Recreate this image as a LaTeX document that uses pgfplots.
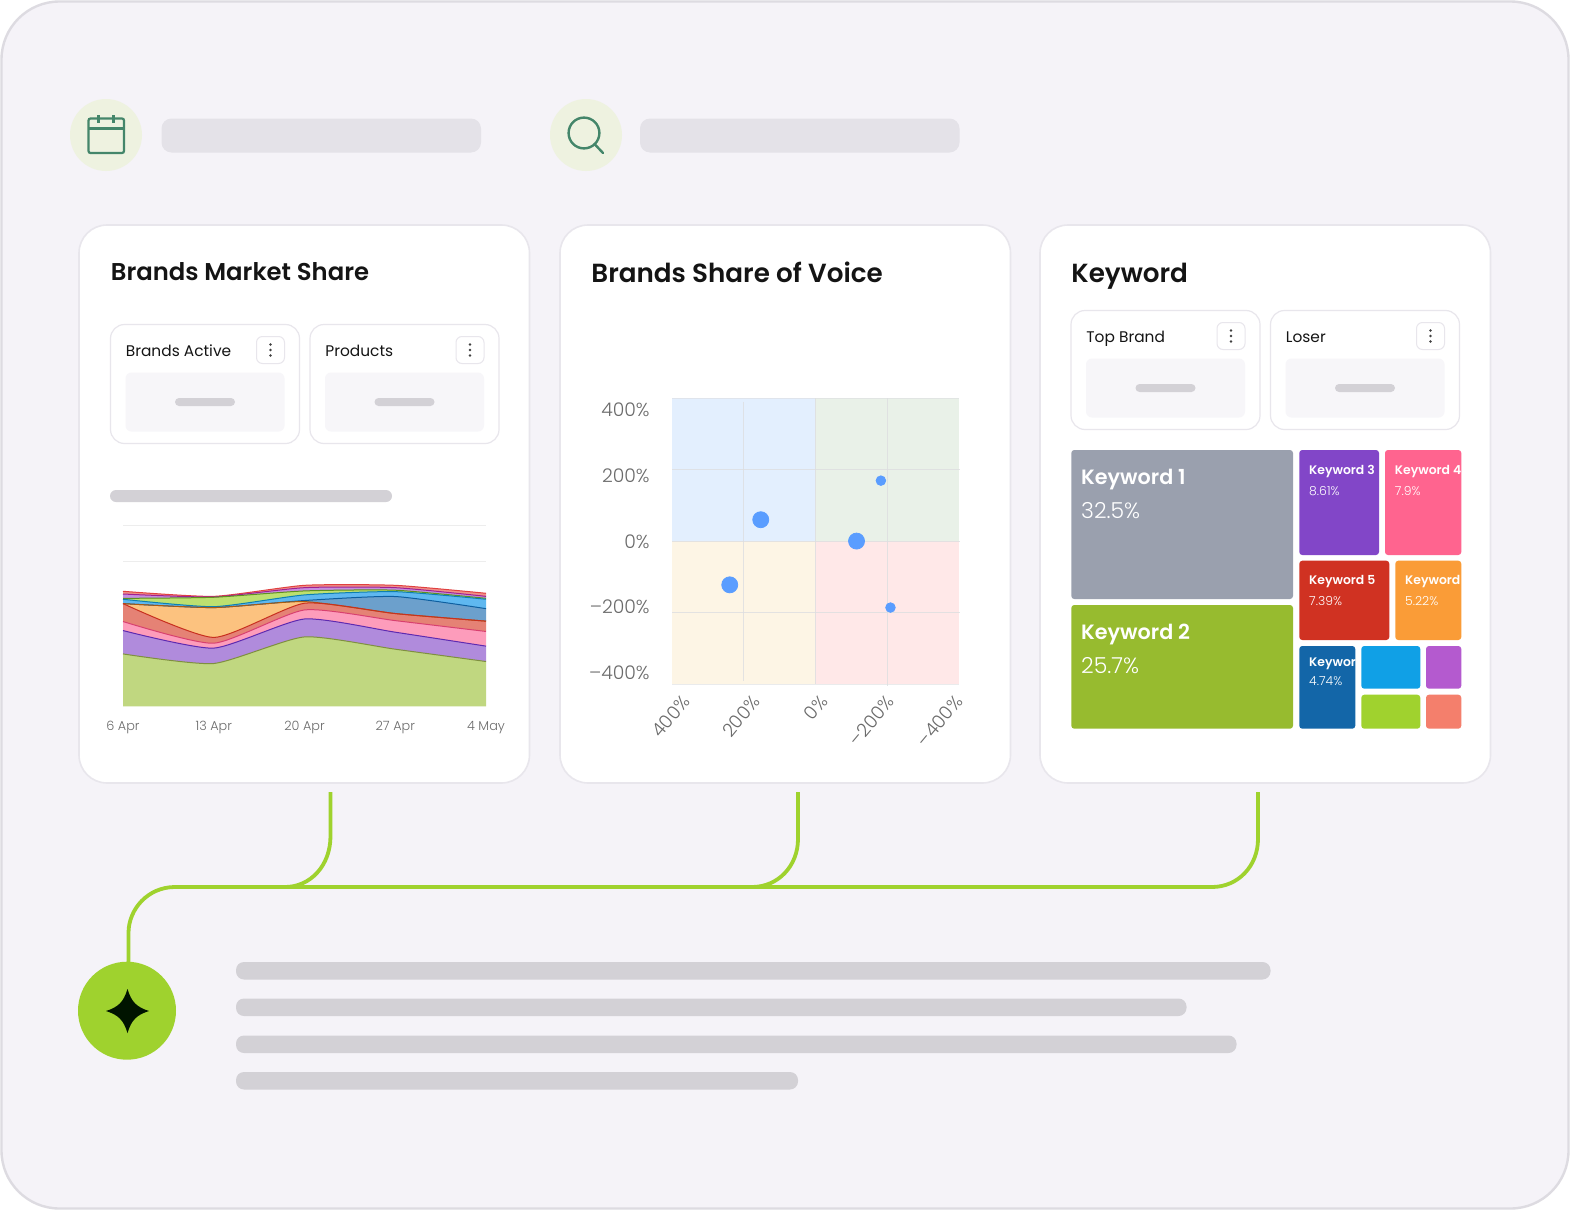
\documentclass[border=0pt]{standalone}
\usepackage{fontspec}
\usepackage{pgfplots}
\usepackage{pgfplotstable}
\pgfplotsset{compat=1.18}
\setmainfont{Poppins}
\newfontfamily\popsb{Poppins}[UprightFont=* SemiBold]
\newfontfamily\popm{Poppins}[UprightFont=* Medium]
\newfontfamily\popl{Poppins}[UprightFont=* Light]
\definecolor{bgc}{HTML}{F5F3F8}
\definecolor{edgec}{HTML}{DDDBE1}
\definecolor{cardedge}{HTML}{E8E6EC}
\definecolor{pillA}{HTML}{E4E2E8}
\definecolor{pillB}{HTML}{D3D1D6}
\definecolor{panel}{HTML}{F7F6F9}
\definecolor{halo}{HTML}{EEF2E0}
\definecolor{iconc}{HTML}{44866A}
\definecolor{lime}{HTML}{9FD22E}
\definecolor{titlec}{HTML}{141414}
\definecolor{tickc}{HTML}{6B6B6B}
\definecolor{gridc}{HTML}{DDDEE0}
\definecolor{aqua}{HTML}{E3EFFE}
\definecolor{sage}{HTML}{E9F1E8}
\definecolor{sand}{HTML}{FDF5E5}
\definecolor{rose}{HTML}{FFE8E8}
\definecolor{bub}{HTML}{5A9DFF}
\definecolor{kA}{HTML}{9AA0AE}
\definecolor{kB}{HTML}{97BB2F}
\definecolor{kC}{HTML}{8246C8}
\definecolor{kD}{HTML}{FF648F}
\definecolor{kE}{HTML}{D03222}
\definecolor{kF}{HTML}{FA9C37}
\definecolor{kG}{HTML}{1366A8}
\definecolor{kH}{HTML}{10A0E6}
\definecolor{kI}{HTML}{B45ACF}
\definecolor{kJ}{HTML}{A0D22E}
\definecolor{kK}{HTML}{F47F6C}
\definecolor{aG}{HTML}{C0D780}\definecolor{aGl}{HTML}{7F8F40}
\definecolor{aP}{HTML}{B08BDC}\definecolor{aPl}{HTML}{5E2AB0}
\definecolor{aK}{HTML}{FD9CBB}\definecolor{aKl}{HTML}{D8406F}
\definecolor{aR}{HTML}{E58275}\definecolor{aRl}{HTML}{C8301F}
\definecolor{aO}{HTML}{FCC27F}\definecolor{aOl}{HTML}{A85A10}
\definecolor{aB}{HTML}{6CA0CC}\definecolor{aBl}{HTML}{0D5FA0}
\definecolor{aL}{HTML}{5FB8F0}\definecolor{aLl}{HTML}{0D80B0}
\definecolor{aN}{HTML}{BDE070}\definecolor{aNl}{HTML}{5F9020}
\definecolor{aU}{HTML}{C58EE0}\definecolor{aUl}{HTML}{A02090}
\definecolor{aT}{HTML}{F09088}\definecolor{aTl}{HTML}{E04040}
\pgfplotstableread{
x   g    p    pk   r    o    b    lb   lg   pp   t
0   29.0 12.9 5.0  9.9  0.0  0.0  2.4  0.5  2.4  1.5
7   23.7 8.5  2.7  3.2  16.5 0.0  0.5  5.2  0.2  0.3
14  38.4 9.9  5.0  3.7  0.9  0.6  3.1  2.2  1.8  1.3
21  31.6 9.4  6.4  3.9  0.0  9.4  2.7  0.8  1.4  1.3
28  24.8 8.5  8.1  5.7  0.0  6.9  5.2  0.5  1.1  1.7
}\sharetable
\pgfplotstableread{
x y
152.6 60.7
-114.4 0.9
239 -121.5
}\bigbubbles
\pgfplotstableread{
x y
-182.3 170
-209 -185
}\smallbubbles
\tikzset{px/.style={x=0.5pt,y=-0.5pt}}
\newcommand{\pill}[6]{\fill[#1,rounded corners=#2] (#3,#4) rectangle (#5,#6);}
\newcommand{\subcard}[3]{%
 \begin{scope}[shift={(#1,#2)}]
  \draw[cardedge,fill=white,line width=.6pt,rounded corners=7pt] (0,0) rectangle (189,119);
  \node[anchor=base west,inner sep=0pt,text=titlec] at (15,31.5) {\fontsize{7.7}{10}\selectfont #3};
  \draw[cardedge,fill=white,line width=.5pt,rounded corners=3pt] (146,12) rectangle (174,39);
  \fill[black!75] (160,20) circle (.65pt) (160,25.5) circle (.65pt) (160,31) circle (.65pt);
  \pill{panel}{3pt}{15}{48}{174}{107}
  \pill{pillB}{2pt}{64.5}{73.5}{124.5}{81.5}
 \end{scope}}
\newcommand{\cellt}[9]{%
 \begin{scope}
  \clip (#1,#2) rectangle (#3,#4);
  \node[anchor=base west,inner sep=0pt,text=white] at (#1+9.5,#2+#7) {\popsb\fontsize{#9}{10}\selectfont #5};
  \node[anchor=base west,inner sep=0pt,text=white] at (#1+9.5,#2+#8) {\popl\fontsize{#9}{10}\selectfont #6};
 \end{scope}}
\pgfplotsset{areabase/.style={at={(61.5pt,-353.2pt)},anchor=south west,scale only axis,
 width=181.5pt,height=90.5pt,xmin=0,xmax=28,ymin=0,ymax=100,
 stack plots=y,clip=false,
 every axis plot/.append style={smooth,tension=0.35,line width=.5pt}}}
\begin{document}
\begin{tikzpicture}
\useasboundingbox (0,0) rectangle (785pt,-605pt);
\begin{scope}[px]
 \fill[white] (0,0) rectangle (1570,1210);
 \draw[edgec,fill=bgc,line width=1.2pt,rounded corners=29pt] (1.5,1.5) rectangle (1568.5,1208.5);
 \fill[halo] (106,135) circle (18pt);
 \fill[halo] (586,135) circle (18pt);
 \pill{pillA}{5pt}{161.5}{118.5}{481}{152.5}
 \pill{pillA}{5pt}{640}{118.5}{959.5}{152.5}
 \draw[iconc,line width=1.1pt,rounded corners=1pt] (88.5,118.5) rectangle (124,153);
 \draw[iconc,line width=1.1pt] (88.5,128.5) -- (124,128.5);
 \draw[iconc,line width=1.1pt] (98.5,115) -- (98.5,123) (113.5,115) -- (113.5,123);
 \draw[iconc,line width=1.2pt] (584,133) circle (7.7pt);
 \draw[iconc,line width=1.2pt,line cap=round] (594.5,144) -- (603,153);
 \foreach \cx in {79,560,1040}{
  \draw[cardedge,fill=white,line width=.8pt,rounded corners=14pt] (\cx,225) rectangle (\cx+450.5,783);
 }
 \node[anchor=base west,inner sep=0pt,text=titlec] at (110.5,280) {\popsb\fontsize{12.15}{14}\selectfont Brands Market Share};
 \node[anchor=base west,inner sep=0pt,text=titlec] at (591,282) {\popsb\fontsize{13.1}{15}\selectfont Brands Share of Voice};
 \node[anchor=base west,inner sep=0pt,text=titlec] at (1071,282) {\popsb\fontsize{13.1}{15}\selectfont Keyword};
 \subcard{110.5}{324.5}{Brands Active}
 \subcard{310}{324.5}{Products}
 \subcard{1071}{310.5}{Top Brand}
 \subcard{1270.5}{310.5}{Loser}
 \pill{pillB}{3pt}{110}{490}{392}{502}
 \draw[lime,line width=1.9pt] (330.5,792) -- (330.5,836) .. controls (330.5,866) and (310,887) .. (285,887) -- (175,887) .. controls (148,887) and (128.5,909) .. (128.5,933) -- (128.5,965);
 \draw[lime,line width=1.9pt] (285,887) -- (1212,887);
 \draw[lime,line width=1.9pt] (798,792) -- (798,839) .. controls (798,866) and (778,887) .. (752,887);
 \draw[lime,line width=1.9pt] (1258,792) -- (1258,839) .. controls (1258,866) and (1238,887) .. (1212,887);
 \fill[lime] (127,1010.7) circle (24.5pt);
 \fill[black!92!green] (127.5,989) .. controls (131.5,1002) and (136.5,1007) .. (149,1011) .. controls (136.5,1015) and (131.5,1020) .. (127.5,1033) .. controls (123.5,1020) and (118.5,1015) .. (106,1011) .. controls (118.5,1007) and (123.5,1002) .. (127.5,989) -- cycle;
 \pill{pillB}{4pt}{236}{962}{1270.5}{979.5}
 \pill{pillB}{4pt}{236}{998.5}{1186.5}{1016}
 \pill{pillB}{4pt}{236}{1035.5}{1236.5}{1053}
 \pill{pillB}{4pt}{236}{1072}{798}{1089.5}
\end{scope}

% ---------- stacked area: fills ----------
\begin{axis}[areabase,
 axis x line*=bottom,axis y line*=left,
 x axis line style={draw=none},y axis line style={draw=none},
 major tick length=0pt,
 xtick={0,7,14,21,28},xticklabels={6 Apr,13 Apr,20 Apr,27 Apr,4 May},
 xticklabel style={font=\popl\fontsize{6.4}{8}\selectfont,text=tickc,inner sep=0pt,yshift=-7pt,text height=5pt,text depth=1.5pt},
 ytick={80,100},yticklabels={},
 ymajorgrids,major grid style={draw=black!7,line width=.5pt},
 ]
 \addplot[draw=none,fill=aG] table[x=x,y=g]{\sharetable} \closedcycle;
 \addplot[draw=none,fill=aP] table[x=x,y=p]{\sharetable} \closedcycle;
 \addplot[draw=none,fill=aK] table[x=x,y=pk]{\sharetable} \closedcycle;
 \addplot[draw=none,fill=aR] table[x=x,y=r]{\sharetable} \closedcycle;
 \addplot[draw=none,fill=aO] table[x=x,y=o]{\sharetable} \closedcycle;
 \addplot[draw=none,fill=aB] table[x=x,y=b]{\sharetable} \closedcycle;
 \addplot[draw=none,fill=aL] table[x=x,y=lb]{\sharetable} \closedcycle;
 \addplot[draw=none,fill=aN] table[x=x,y=lg]{\sharetable} \closedcycle;
 \addplot[draw=none,fill=aU] table[x=x,y=pp]{\sharetable} \closedcycle;
 \addplot[draw=none,fill=aT] table[x=x,y=t]{\sharetable} \closedcycle;
\end{axis}
% ---------- stacked area: outlines ----------
\begin{axis}[areabase,hide axis]
 \addplot[aGl] table[x=x,y=g]{\sharetable};
 \addplot[aPl] table[x=x,y=p]{\sharetable};
 \addplot[aKl] table[x=x,y=pk]{\sharetable};
 \addplot[aRl] table[x=x,y=r]{\sharetable};
 \addplot[aOl] table[x=x,y=o]{\sharetable};
 \addplot[aBl] table[x=x,y=b]{\sharetable};
 \addplot[aLl] table[x=x,y=lb]{\sharetable};
 \addplot[aNl] table[x=x,y=lg]{\sharetable};
 \addplot[aUl] table[x=x,y=pp]{\sharetable};
 \addplot[aTl] table[x=x,y=t]{\sharetable};
\end{axis}

% ---------- scatter ----------
\begin{axis}[at={(336pt,-342.2pt)},anchor=south west,scale only axis,
 width=143.5pt,height=143pt,x dir=reverse,xmin=-400,xmax=400,ymin=-400,ymax=400,
 axis line style={draw=none},major tick length=0pt,clip=false,
 ytick={368,183,0,-183,-367},yticklabels={400\%,200\%,0\%,–200\%,–400\%},
 xtick={369,174,-15,-201,-391},xticklabels={400\%,200\%,0\%,–200\%,–400\%},
 yticklabel style={font=\popl\fontsize{9.4}{11}\selectfont,text=tickc,inner sep=0pt,anchor=east,xshift=-11pt},
 xticklabel style={font=\popl\fontsize{9.2}{11}\selectfont,text=tickc,inner sep=0pt,rotate=50,anchor=north east,yshift=-2pt,xshift=-4.3pt},
 ]
 \addplot[draw=none,fill=aqua] coordinates {(400,0)(0,0)(0,400)(400,400)} --cycle;
 \addplot[draw=none,fill=sage] coordinates {(0,0)(-400,0)(-400,400)(0,400)} --cycle;
 \addplot[draw=none,fill=sand] coordinates {(400,-400)(0,-400)(0,0)(400,0)} --cycle;
 \addplot[draw=none,fill=rose] coordinates {(0,-400)(-400,-400)(-400,0)(0,0)} --cycle;
 \addplot[gridc,line width=.55pt,opacity=.8] coordinates {(400,200)(-403,200)};
 \addplot[gridc,line width=.55pt,opacity=.8] coordinates {(400,0)(-403,0)};
 \addplot[gridc,line width=.55pt,opacity=.8] coordinates {(400,-200)(-403,-200)};
 \addplot[gridc,line width=.55pt,opacity=.8] coordinates {(200,390)(200,-390)};
 \addplot[gridc,line width=.55pt,opacity=.8] coordinates {(0,400)(0,-400)};
 \addplot[gridc,line width=.55pt,opacity=.8] coordinates {(-200,400)(-200,-405)};
 \addplot[gridc,line width=.5pt,opacity=.6] coordinates {(400,400)(-400,400)};
 \addplot[gridc,line width=.5pt,opacity=.6] coordinates {(400,-400)(-400,-400)};
 \addplot[only marks,mark=*,mark size=4pt,color=bub] table[x=x,y=y]{\bigbubbles};
 \addplot[only marks,mark=*,mark size=2.4pt,color=bub] table[x=x,y=y]{\smallbubbles};
\end{axis}

% ---------- treemap ----------
\begin{axis}[at={(530pt,-370pt)},anchor=south west,scale only axis,
 width=205pt,height=150pt,xmin=1060,xmax=1470,ymin=440,ymax=740,y dir=reverse,
 hide axis,clip=false,
 every axis plot/.append style={draw=none,rounded corners=1.5pt},
 ]
 \addplot[fill=kA] coordinates {(1071.3,450)(1293,450)(1293,599)(1071.3,599)} --cycle;
 \addplot[fill=kB] coordinates {(1071.3,605)(1293,605)(1293,728.7)(1071.3,728.7)} --cycle;
 \addplot[fill=kC] coordinates {(1299.3,450)(1379,450)(1379,555)(1299.3,555)} --cycle;
 \addplot[fill=kD] coordinates {(1385,450)(1461.3,450)(1461.3,555)(1385,555)} --cycle;
 \addplot[fill=kE] coordinates {(1299.3,560.7)(1389.3,560.7)(1389.3,640)(1299.3,640)} --cycle;
 \addplot[fill=kF] coordinates {(1395.3,560.7)(1461.3,560.7)(1461.3,640)(1395.3,640)} --cycle;
 \addplot[fill=kG] coordinates {(1299.3,646)(1355.3,646)(1355.3,728.7)(1299.3,728.7)} --cycle;
 \addplot[fill=kH] coordinates {(1361.3,646)(1420.3,646)(1420.3,688.7)(1361.3,688.7)} --cycle;
 \addplot[fill=kI] coordinates {(1426,646)(1461.3,646)(1461.3,688.7)(1426,688.7)} --cycle;
 \addplot[fill=kJ] coordinates {(1361.3,694.7)(1420.3,694.7)(1420.3,728.7)(1361.3,728.7)} --cycle;
 \addplot[fill=kK] coordinates {(1426,694.7)(1461.3,694.7)(1461.3,728.7)(1426,728.7)} --cycle;
\end{axis}

\begin{scope}[px]
 \cellt{1071.3}{450}{1293}{599}{\fontsize{10.35}{10}\selectfont Keyword 1}{32.5\%}{34}{68}{11}
 \cellt{1071.3}{605}{1293}{728.7}{\fontsize{10.35}{10}\selectfont Keyword 2}{25.7\%}{34}{68}{11}
 \cellt{1299.3}{450}{1379}{555}{Keyword 3}{8.61\%}{24}{45}{6.2}
 \cellt{1385}{450}{1461.3}{555}{Keyword 4}{7.9\%}{24}{45}{6.2}
 \cellt{1299.3}{560.7}{1389.3}{640}{Keyword 5}{7.39\%}{24}{45}{6.2}
 \cellt{1395.3}{560.7}{1461.3}{640}{Keyword 6}{5.22\%}{24}{45}{6.2}
 \cellt{1299.3}{646}{1355.3}{728.7}{Keyword 7}{4.74\%}{20}{39}{6.2}
\end{scope}
\end{tikzpicture}
\end{document}
